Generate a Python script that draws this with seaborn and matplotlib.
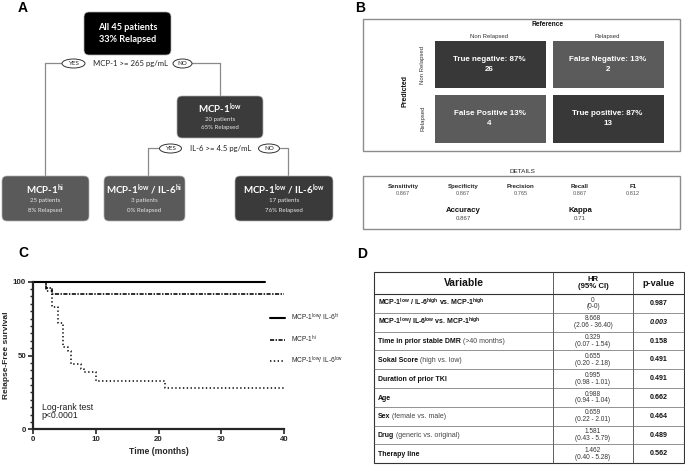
import numpy as np
import pandas as pd
import matplotlib
matplotlib.use("Agg")
import matplotlib.pyplot as plt
from matplotlib.patches import FancyBboxPatch, Ellipse, Rectangle
from matplotlib.colors import LinearSegmentedColormap
from matplotlib.ticker import MultipleLocator
import seaborn as sns

# ---------------- data ----------------
# Panel A: decision tree
node_titles = ["All 45 patients", "MCP-1$^{low}$", "MCP-1$^{hi}$",
               "MCP-1$^{low}$ / IL-6$^{hi}$", "MCP-1$^{low}$ / IL-6$^{low}$"]
node_n = [45, 20, 25, 3, 17]
node_relapsed = [33, 65, 8, 0, 76]
split_rules = ["MCP-1 >= 265 pg/mL", "IL-6 >= 4.5 pg/mL"]

# Panel B: confusion matrix
cm_cols = ["Non Relapsed", "Relapsed"]
cm_rows = ["Non Relapsed", "Relapsed"]
cm_names = [["True negative: ", "False Negative: "], ["False Positive ", "True positive: "]]
cm_pct = [[87, 13], [13, 87]]
cm_counts = [[26, 2], [4, 13]]
metric_names = ["Sensitivity", "Specificity", "Precision", "Recall", "F1"]
metric_vals = ["0.867", "0.867", "0.765", "0.867", "0.812"]
summary_names = ["Accuracy", "Kappa"]
summary_vals = ["0.867", "0.71"]

# Panel C: Kaplan-Meier curves
groups = ["MCP-1$^{low}$/ IL-6$^{hi}$", "MCP-1$^{hi}$", "MCP-1$^{low}$/ IL-6$^{low}$"]
t_low_hi = [0, 37]
s_low_hi = [100, 100]
t_hi = [0, 2, 3, 40]
s_hi = [100, 96, 92, 92]
t_low_low = [0, 2, 3, 4, 4.8, 5.6, 6, 7.6, 8.2, 10, 21, 40]
s_low_low = [100, 94, 83, 72, 56, 53, 44, 41, 39, 33, 28, 28]

# Panel D: Cox regression table
var_bold = ["MCP-1$^{low}$ / IL-6$^{high}$ vs. MCP-1$^{high}$",
            "MCP-1$^{low}$/ IL-6$^{low}$ vs. MCP-1$^{high}$",
            "Time in prior stable DMR", "Sokal Score", "Duration of prior TKI",
            "Age", "Sex", "Drug", "Therapy line"]
var_reg = ["", "", " (>40 months)", " (high vs. low)", "", "", " (female vs. male)",
           " (generic vs. original)", ""]
hr_vals = ["0", "8.668", "0.329", "0.655", "0.995", "0.988", "0.659", "1.581", "1.462"]
hr_ci = ["(0-0)", "(2.06 - 36.40)", "(0.07 - 1.54)", "(0.20 - 2.18)", "(0.98 - 1.01)",
         "(0.94 - 1.04)", "(0.22 - 2.01)", "(0.43 - 5.79)", "(0.40 - 5.28)"]
p_vals = ["0.987", "0.003", "0.158", "0.491", "0.491", "0.662", "0.464", "0.489", "0.562"]

# ---------------- style ----------------
sns.set_theme(style="ticks")
plt.rcParams["font.family"] = ["Liberation Sans", "DejaVu Sans"]
plt.rcParams["mathtext.fontset"] = "custom"
plt.rcParams["mathtext.rm"] = "Liberation Sans"
plt.rcParams["mathtext.bf"] = "Liberation Sans:bold"
plt.rcParams["mathtext.default"] = "regular"

W, H = 685, 465
fig = plt.figure(figsize=(W / 100, H / 100), dpi=100)

def fx(x):
    return x / W

def fy(y):
    return 1 - y / H

# ---------------- Panel B heatmap ----------------
ax_h = fig.add_axes([fx(430.5), fy(145.5), (666.5 - 430.5) / W, (145.5 - 37.5) / H])
annot = np.array([[f"{cm_names[i][j]}{cm_pct[i][j]}%\n{cm_counts[i][j]}" for j in range(2)]
                  for i in range(2)])
cmap = LinearSegmentedColormap.from_list("g", ["#5b5b5b", "#383838"])
sns.heatmap(np.array(cm_pct), annot=annot, fmt="", cmap=cmap, vmin=13, vmax=87, cbar=False,
            linewidths=5.0, linecolor="white", ax=ax_h,
            annot_kws={"fontsize": 5.8, "fontweight": "bold", "color": "white",
                       "linespacing": 1.45})
ax_h.set(xticks=[], yticks=[], xlabel="", ylabel="")

# ---------------- Panel C KM ----------------
ax_c = fig.add_axes([fx(33), fy(429.3), (284 - 33) / W, (429.3 - 281.7) / H])
df = pd.concat([
    pd.DataFrame({"time": t_low_hi, "surv": s_low_hi, "group": groups[0]}),
    pd.DataFrame({"time": t_hi, "surv": s_hi, "group": groups[1]}),
    pd.DataFrame({"time": t_low_low, "surv": s_low_low, "group": groups[2]}),
], ignore_index=True)
sns.lineplot(data=df, x="time", y="surv", hue="group", style="group",
             hue_order=groups, style_order=groups, palette=["black"] * 3,
             dashes={groups[0]: "", groups[1]: (2.6, 0.9, 0.9, 0.9), groups[2]: (0.9, 1.6)},
             estimator=None, errorbar=None, drawstyle="steps-post", legend=False,
             ax=ax_c, clip_on=False, linewidth=1.1)
lines = ax_c.get_lines()
for ln, lw in zip(lines, [1.5, 1.15, 1.1]):
    ln.set_linewidth(lw)
ax_c.set_xlim(0, 40)
ax_c.set_ylim(0, 100)
ax_c.set_xticks([0, 10, 20, 30, 40])
ax_c.set_yticks([0, 50, 100])
ax_c.yaxis.set_minor_locator(MultipleLocator(5))
sns.despine(ax=ax_c)
for s in ["left", "bottom"]:
    ax_c.spines[s].set_linewidth(1.6)
ax_c.tick_params(axis="both", which="major", width=1.2, length=3.5, labelsize=5.7, pad=1.5)
ax_c.tick_params(axis="y", which="minor", width=1.0, length=2.3)
for lbl in ax_c.get_xticklabels() + ax_c.get_yticklabels():
    lbl.set_fontweight("bold")
ax_c.set_xlabel("Time (months)", fontsize=6.2, fontweight="bold", labelpad=3)
ax_c.set_ylabel("Relapse-Free survival", fontsize=6.0, fontweight="bold", labelpad=2)
ax_c.text(1.4, 15, "Log-rank test", fontsize=6.3, ha="left", va="center", color="#222")
ax_c.text(1.4, 9.5, "p<0.0001", fontsize=6.3, ha="left", va="center", color="#222")
ax_c.legend(lines, groups, loc="upper left", bbox_to_anchor=(fx(270), fy(312)),
            bbox_transform=fig.transFigure, frameon=False, fontsize=4.8,
            handlelength=2.2, handletextpad=0.9, labelspacing=1.5,
            borderpad=0, borderaxespad=0)

# ---------------- Overlay (A, B texts, D) ----------------
ov = fig.add_axes([0, 0, 1, 1])
ov.set_xlim(0, W)
ov.set_ylim(H, 0)
ov.axis("off")
ov.patch.set_visible(False)
ov.set_zorder(5)

def T(x, y, s, size, weight="normal", color="black", ha="center", va="center", **kw):
    return ov.text(x, y, s, fontsize=size, fontweight=weight, color=color, ha=ha, va=va, **kw)

# panel letters
for lx, ly, L in [(18, 8, "A"), (355, 8, "B"), (18, 253, "C"), (357, 254, "D")]:
    T(lx, ly, L, 10, "bold", ha="left")

# ---- Panel A ----
fa = ["Lato", "DejaVu Sans"]
line_c = "#8a8a8a"
boxes = [(84, 12, 87, 43, "#000000"), (177, 96, 86, 42, "#3b3b3b"),
         (2, 176, 87, 45, "#5a5a5a"), (104, 176, 81, 45, "#5a5a5a"),
         (235, 176, 98, 45, "#3a3a3a")]
# connectors
for seg in [((45, 62), (63.5, 63.5)), ((45, 45), (63.5, 176)),
            ((192, 220), (63.5, 63.5)), ((220, 220), (63.5, 96)),
            ((147.7, 159.5), (148.5, 148.5)), ((147.7, 147.7), (148.5, 176)),
            ((280, 288.3), (148.5, 148.5)), ((288.3, 288.3), (148.5, 176))]:
    ov.plot(seg[0], seg[1], color=line_c, lw=0.9, zorder=1)
for i, (x, y, w, h, c) in enumerate(boxes):
    ov.add_patch(FancyBboxPatch((x, y), w, h, boxstyle="round,pad=0,rounding_size=5",
                                fc=c, ec="#b0b0b0", lw=0.5, zorder=2))
    cx = x + w / 2
    if i == 0:
        T(cx, y + h / 2, f"{node_titles[0]}\n{node_relapsed[0]}% Relapsed", 6.6, "bold",
          "white", family=fa, linespacing=1.35, zorder=3)
    else:
        T(cx, y + h * 0.30, node_titles[i], 7.0, "bold", "white", family=fa, zorder=3)
        T(cx, y + h * 0.55, f"{node_n[i]} patients", 4.4, "normal", "#e6e6e6", family=fa, zorder=3)
        T(cx, y + h * 0.76, f"{node_relapsed[i]}% Relapsed", 4.4, "normal", "#e6e6e6",
          family=fa, zorder=3)
# split rules and yes/no ellipses
for (ex, ey, ew, eh, lab) in [(73.5, 63.5, 23, 9, "YES"), (182.5, 63.5, 19, 9, "NO"),
                              (170.5, 148.5, 22, 9, "YES"), (269, 148.5, 21, 9, "NO")]:
    ov.add_patch(Ellipse((ex, ey), ew, eh, fc="white", ec="#333333", lw=0.7, zorder=2))
    T(ex, ey, lab, 4.5, "normal", "#222", family=fa, zorder=3)
T(130.5, 63.5, split_rules[0], 5.6, "normal", "#222", family=fa)
T(220.5, 148.5, split_rules[1], 5.6, "normal", "#222", family=fa)

# ---- Panel B ----
ov.add_patch(Rectangle((363, 19), 317, 132, fill=False, ec="#8c8c8c", lw=1.0))
T(548, 25, "Reference", 4.8, "bold", "#111")
for j, lab in enumerate(cm_cols):
    T([489.5, 607.5][j], 36.5, lab, 4.3, "normal", "#333")
for i, lab in enumerate(cm_rows):
    T(423, [64.5, 118.5][i], lab, 4.3, "normal", "#333", rotation=90)
T(405, 91, "Predicted", 5.0, "bold", "#111", rotation=90)
T(522, 171, "DETAILS", 4.6, "normal", "#222")
ov.add_patch(Rectangle((363, 176), 317, 53, fill=False, ec="#8c8c8c", lw=1.0))
for x, n, v in zip([403, 463, 521, 580, 633], metric_names, metric_vals):
    T(x, 186, n, 4.4, "bold", "#222")
    T(x, 193, v, 4.1, "normal", "#555")
for x, n, v in zip([463, 580], summary_names, summary_vals):
    T(x, 210.5, n, 5.6, "bold", "#111")
    T(x, 218, v, 4.4, "normal", "#444")

# ---- Panel D table ----
tx0, tx1, tx2, tx3 = 374.3, 553.3, 632.7, 684.3
ty_top, ty_head = 272, 294
row_h = (463.3 - 294) / len(var_bold)
ov.add_patch(Rectangle((tx0, ty_top), tx3 - tx0, 463.3 - ty_top, fill=False, ec="#333", lw=0.8))
ov.plot([tx1, tx1], [ty_top, 463.3], color="#444", lw=0.6)
ov.plot([tx2, tx2], [ty_top, 463.3], color="#444", lw=0.6)
ov.plot([tx0, tx3], [ty_head, ty_head], color="#333", lw=0.8)
for k in range(1, len(var_bold)):
    yy = ty_head + k * row_h
    ov.plot([tx0, tx3], [yy, yy], color="#666", lw=0.5)
T((tx0 + tx1) / 2, 283, "Variable", 7.5, "bold", "#111")
T((tx1 + tx2) / 2, 283, "HR\n(95% CI)", 5.6, "bold", "#111", linespacing=1.1)
T((tx2 + tx3) / 2, 283, "p-value", 6.6, "bold", "#111")

renderer = fig.canvas.get_renderer()
for k in range(len(var_bold)):
    yc = ty_head + (k + 0.5) * row_h
    t1 = T(378, yc + 2.2, var_bold[k], 5.0, "bold", "#111", ha="left", va="baseline")
    if var_reg[k]:
        w = t1.get_window_extent(renderer).width
        T(378 + w, yc + 2.2, var_reg[k], 5.0, "normal", "#444", ha="left", va="baseline")
    T((tx1 + tx2) / 2, yc - 3.3, hr_vals[k], 4.7, "normal", "#333")
    T((tx1 + tx2) / 2, yc + 3.5, hr_ci[k], 4.7, "normal", "#333")
    T((tx2 + tx3) / 2, yc, p_vals[k], 5.1, "bold", "#111",
      style="italic" if k == 1 else "normal")

fig.savefig("out.png", dpi=100)
